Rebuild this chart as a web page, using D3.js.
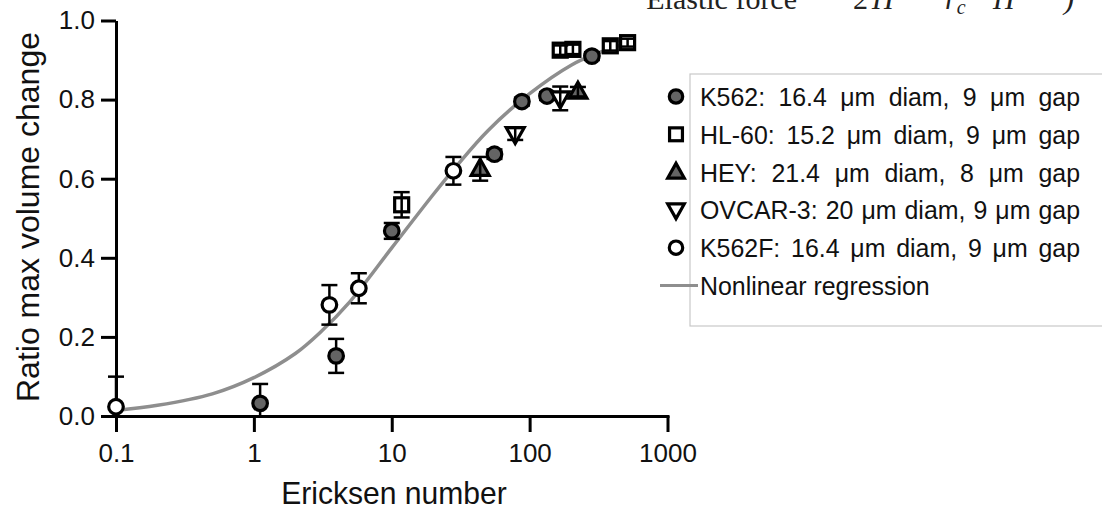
<!DOCTYPE html>
<html>
<head>
<meta charset="utf-8">
<script src="https://cdn.jsdelivr.net/npm/d3@7"></script>
<style>
  html, body { margin: 0; padding: 0; background: #fff; }
  svg { display: block; }
</style>
</head>
<body>
<svg id="chart" width="1102" height="519"></svg>
<script>
// Measured series: Ericksen number (x), ratio of max volume change (y), error (±)
const k562 = [
  { x: 1.11, y: 0.032, e: 0.049 },
  { x: 3.95, y: 0.152, e: 0.043 },
  { x: 10.0, y: 0.468, e: 0.020 },
  { x: 55.6, y: 0.662, e: 0.012 },
  { x: 87.9, y: 0.795, e: 0.010 },
  { x: 133.6, y: 0.809, e: 0.010 },
  { x: 283, y: 0.910, e: 0.010 }
];
const hl60 = [
  { x: 11.8, y: 0.534, e: 0.032 },
  { x: 166.7, y: 0.925, e: 0.012 },
  { x: 206, y: 0.927, e: 0.012 },
  { x: 384.6, y: 0.936, e: 0.012 },
  { x: 513.6, y: 0.944, e: 0.010 }
];
const hey = [
  { x: 43.8, y: 0.625, e: 0.030 },
  { x: 224, y: 0.820, e: 0.012 }
];
const ovcar3 = [
  { x: 78.6, y: 0.713, e: 0.015 },
  { x: 166.7, y: 0.803, e: 0.030 }
];
const k562f = [
  { x: 0.1, y: 0.0235, e: 0.076 },
  { x: 3.53, y: 0.281, e: 0.050 },
  { x: 5.77, y: 0.323, e: 0.038 },
  { x: 28.0, y: 0.620, e: 0.035 }
];

// Nonlinear regression curve, sampled along x
const fitEricksen = [0.1, 0.2, 0.5, 1, 2, 3, 5, 10, 20, 30, 50, 100, 200, 300, 500];
const fitRatio    = [0.014, 0.027, 0.056, 0.097, 0.158, 0.21, 0.29, 0.425, 0.56, 0.635, 0.722, 0.815, 0.887, 0.915, 0.942];

// Axis ticks
const xTicks = [0.1, 1, 10, 100, 1000];
const xTickLabels = ["0.1", "1", "10", "100", "1000"];
const yTicks = [0, 0.2, 0.4, 0.6, 0.8, 1.0];

// Legend entries
const legendLabels = [
  "K562: 16.4 μm diam, 9 μm gap",
  "HL-60: 15.2 μm diam, 9 μm gap",
  "HEY: 21.4 μm diam, 8 μm gap",
  "OVCAR-3: 20 μm diam, 9 μm gap",
  "K562F: 16.4 μm diam, 9 μm gap",
  "Nonlinear regression"
];

const svg = d3.select("#chart");
const FONT = "'Liberation Sans', Arial, sans-serif";
const GRAY = "#646464";
const CURVE = "#8e8e8e";
const NARROW = 0.94;   // horizontal squeeze of the sans-serif labels

const x = d3.scaleLog().domain([0.1, 1000]).range([116, 667.5]);
const y = d3.scaleLinear().domain([0, 1]).range([416, 20.5]);

// Partially visible equation at the top edge
const eq = svg.append("g").attr("font-family", "'Liberation Serif', 'DejaVu Serif', serif")
  .attr("font-size", 30).attr("fill", "#222");
eq.append("text").attr("x", 797).attr("y", 9).attr("text-anchor", "end").text("Elastic force");
eq.append("text").attr("x", 853).attr("y", 9).text("2").append("tspan").attr("font-style", "italic").attr("dx", 4).text("H");
const rc = eq.append("text").attr("x", 945).attr("y", 9).attr("font-style", "italic").text("r");
rc.append("tspan").attr("font-size", 20).attr("dy", 5).text("c");
eq.append("text").attr("x", 993).attr("y", 9).attr("font-style", "italic").text("H");
eq.append("text").attr("x", 1064).attr("y", 9).attr("font-style", "italic").text(")");

// Axes
const yAxis = d3.axisLeft(y).tickValues(yTicks).tickFormat(d3.format(".1f"))
  .tickSize(15).tickSizeOuter(0).tickPadding(6);
const gy = svg.append("g").attr("transform", "translate(116,0)").call(yAxis);

const xAxis = d3.axisBottom(x).tickValues(xTicks)
  .tickFormat((d, i) => xTickLabels[i]).tickSize(16).tickSizeOuter(0).tickPadding(12);
const gx = svg.append("g").attr("transform", "translate(0,416)").call(xAxis);

[gx, gy].forEach(g => {
  g.selectAll("path.domain").attr("stroke", "#000").attr("stroke-width", 3);
  g.selectAll(".tick line").attr("stroke", "#000").attr("stroke-width", 3);
  g.selectAll(".tick text").attr("font-family", FONT).attr("font-size", 26).attr("fill", "#111");
});
gx.selectAll("path.domain").attr("stroke-linecap", "square");

// Axis titles
svg.append("text")
  .attr("transform", `translate(394,504) scale(${NARROW},1)`)
  .attr("text-anchor", "middle")
  .attr("font-family", FONT).attr("font-size", 32).attr("fill", "#111")
  .text("Ericksen number");
svg.append("text")
  .attr("transform", "translate(39,217) rotate(-90)")
  .attr("text-anchor", "middle")
  .attr("font-family", FONT).attr("font-size", 32).attr("fill", "#111")
  .text("Ratio max volume change");

// Regression curve
const fitLine = d3.line()
  .x(d => x(d[0])).y(d => y(d[1]))
  .curve(d3.curveCatmullRom.alpha(0.5));
svg.append("path")
  .datum(fitEricksen.map((v, i) => [v, fitRatio[i]]))
  .attr("d", fitLine)
  .attr("fill", "none").attr("stroke", CURVE).attr("stroke-width", 3.5);

// Marker shapes
function drawMarker(g, kind, cx, cy, s) {
  const sw = 3.2;
  if (kind === "circleFilled" || kind === "circleOpen") {
    g.append("circle").attr("cx", cx).attr("cy", cy).attr("r", 7.3 * s)
      .attr("fill", kind === "circleFilled" ? GRAY : "#fff")
      .attr("stroke", "#000").attr("stroke-width", sw);
  } else if (kind === "square") {
    const h = 7 * s;
    g.append("rect").attr("x", cx - h).attr("y", cy - h).attr("width", 2 * h).attr("height", 2 * h)
      .attr("fill", "#fff").attr("stroke", "#000").attr("stroke-width", sw);
  } else if (kind === "triUp") {
    const p = [[cx, cy - 9.5 * s], [cx + 9 * s, cy + 6.5 * s], [cx - 9 * s, cy + 6.5 * s]];
    g.append("path").attr("d", "M" + p.join("L") + "Z")
      .attr("fill", GRAY).attr("stroke", "#000").attr("stroke-width", sw).attr("stroke-linejoin", "miter");
  } else if (kind === "triDown") {
    const p = [[cx, cy + 9.5 * s], [cx + 9 * s, cy - 6.5 * s], [cx - 9 * s, cy - 6.5 * s]];
    g.append("path").attr("d", "M" + p.join("L") + "Z")
      .attr("fill", "#fff").attr("stroke", "#000").attr("stroke-width", sw).attr("stroke-linejoin", "miter");
  }
}

function drawErrors(g, data) {
  const cap = 8;
  data.forEach(d => {
    const cx = x(d.x);
    const top = y(d.y + d.e);
    const lowVal = d.y - d.e;
    const bottom = y(Math.max(0, lowVal));
    g.append("line").attr("x1", cx).attr("x2", cx).attr("y1", top).attr("y2", bottom)
      .attr("stroke", "#000").attr("stroke-width", 2.5);
    g.append("line").attr("x1", cx - cap).attr("x2", cx + cap).attr("y1", top).attr("y2", top)
      .attr("stroke", "#000").attr("stroke-width", 2.5);
    if (lowVal > 0) {
      g.append("line").attr("x1", cx - cap).attr("x2", cx + cap).attr("y1", bottom).attr("y2", bottom)
        .attr("stroke", "#000").attr("stroke-width", 2.5);
    }
  });
}

const series = [
  { data: k562, kind: "circleFilled", errorsOnTop: false },
  { data: k562f, kind: "circleOpen", errorsOnTop: false },
  { data: hey, kind: "triUp", errorsOnTop: true },
  { data: ovcar3, kind: "triDown", errorsOnTop: true },
  { data: hl60, kind: "square", errorsOnTop: true }
];

const pts = svg.append("g");
series.forEach(s => {
  const g = pts.append("g");
  if (!s.errorsOnTop) drawErrors(g, s.data);
  s.data.forEach(d => drawMarker(g, s.kind, x(d.x), y(d.y), 1));
  if (s.errorsOnTop) drawErrors(g, s.data);
});

// Legend
const lg = svg.append("g");
lg.append("rect").attr("x", 690).attr("y", 74).attr("width", 440).attr("height", 252)
  .attr("fill", "none").attr("stroke", "#c8c8c8").attr("stroke-width", 1.2);

const legendKinds = ["circleFilled", "square", "triUp", "triDown", "circleOpen"];
const rowY = i => 96.5 + i * 37.8;
legendKinds.forEach((k, i) => drawMarker(lg, k, 676, rowY(i), 0.92));
lg.append("line").attr("x1", 660).attr("x2", 698).attr("y1", rowY(5)).attr("y2", rowY(5))
  .attr("stroke", CURVE).attr("stroke-width", 3);

const texts = legendLabels.map((t, i) =>
  lg.append("text")
    .attr("transform", `translate(700,${rowY(i)}) scale(${NARROW},1)`)
    .attr("dy", "0.36em")
    .attr("font-family", FONT).attr("font-size", 26.5).attr("fill", "#111").text(t));

// Justify the cell-line rows to a common right edge
const rightEdge = 1080;
texts.slice(0, 5).forEach((t, i) => {
  const w = t.node().getComputedTextLength();
  const spaces = (legendLabels[i].match(/ /g) || []).length;
  const extra = ((rightEdge - 700) / NARROW - w) / spaces;
  t.attr("word-spacing", extra);
});
</script>
</body>
</html>
